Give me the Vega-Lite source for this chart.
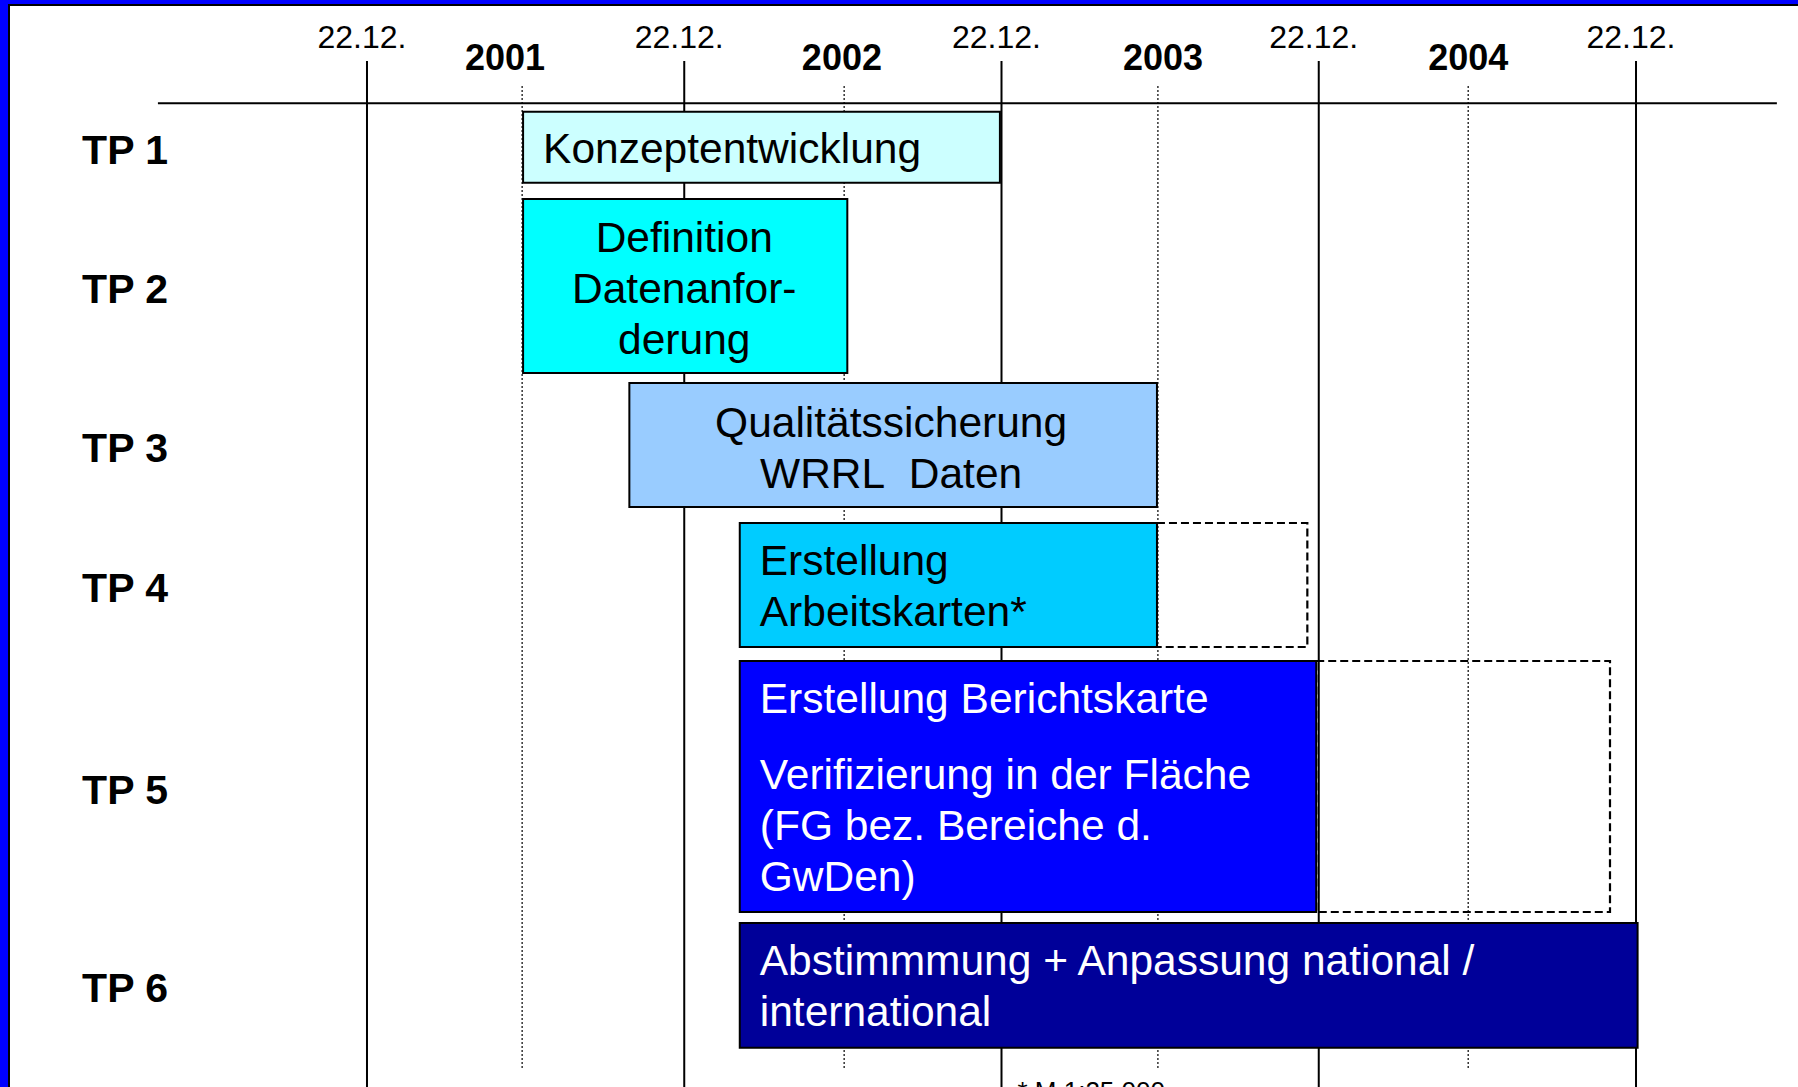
{
  "$schema": "https://vega.github.io/schema/vega-lite/v6.json",
  "width": 1791,
  "height": 1084,
  "autosize": {"type": "none"},
  "padding": {"left": 9, "top": 5, "right": -2, "bottom": -2},
  "background": "#0000ff",
  "config": {
    "view": {"fill": "white", "stroke": "black", "strokeWidth": 2},
    "text": {"font": "Liberation Sans"}
  },
  "datasets": {
    "tasks": [
      {"tp": "TP 1", "start": 2001.467, "end": 2002.970, "top": 1.117, "bottom": 1.827, "mid": 1.472},
      {"tp": "TP 2", "start": 2001.467, "end": 2002.489, "top": 1.99, "bottom": 3.73, "mid": 2.86},
      {"tp": "TP 3", "start": 2001.802, "end": 2003.465, "top": 3.83, "bottom": 5.07, "mid": 4.45},
      {"tp": "TP 4", "start": 2002.150, "end": 2003.465, "planned": 2003.939, "top": 5.23, "bottom": 6.47, "mid": 5.85},
      {"tp": "TP 5", "start": 2002.150, "end": 2003.967, "planned": 2004.893, "top": 6.61, "bottom": 9.12, "mid": 7.87},
      {"tp": "TP 6", "start": 2002.150, "end": 2004.980, "top": 9.23, "bottom": 10.477, "mid": 9.85}
    ],
    "grid": [
      {"x": 2000.975, "label": "22.12."},
      {"x": 2001.975, "label": "22.12."},
      {"x": 2002.975, "label": "22.12."},
      {"x": 2003.975, "label": "22.12."},
      {"x": 2004.975, "label": "22.12."}
    ],
    "years": [
      {"year": "2001", "mid": 2001.464, "labelAt": 2001.410},
      {"year": "2002", "mid": 2002.479, "labelAt": 2002.472},
      {"year": "2003", "mid": 2003.468, "labelAt": 2003.484},
      {"year": "2004", "mid": 2004.446, "labelAt": 2004.446}
    ],
    "labelsLeft": [
      {"tp": "TP 1", "x": 2001.467, "y": 1.633, "text": ["Konzeptentwicklung"]},
      {"tp": "TP 4", "x": 2002.150, "y": 5.75, "text": ["Erstellung", "Arbeitskarten*"]},
      {"tp": "TP 5", "x": 2002.150, "y": 7.133, "text": ["Erstellung Berichtskarte"]},
      {"tp": "TP 5", "x": 2002.150, "y": 7.893, "text": ["Verifizierung in der Fläche", "(FG bez. Bereiche d.", "GwDen)"]},
      {"tp": "TP 6", "x": 2002.150, "y": 9.75, "text": ["Abstimmmung + Anpassung national /", "international"]}
    ],
    "labelsCenter": [
      {"tp": "TP 2", "x": 2001.975, "y": 2.517, "text": ["Definition", "Datenanfor-", "derung"]},
      {"tp": "TP 3", "x": 2002.627, "y": 4.367, "text": ["Qualitätssicherung", "WRRL\u00a0 Daten"]}
    ],
    "notes": [
      {"text": "* M 1:25.000", "x": 2002.975, "y": 11.0}
    ]
  },
  "layer": [
    {
      "data": {"name": "grid"},
      "mark": {"type": "rule", "color": "black", "strokeWidth": 2},
      "encoding": {
        "x": {"field": "x", "type": "quantitative", "axis": null, "scale": {"domain": [1999.8466, 2005.4919], "nice": false, "zero": false}},
        "y": {"datum": 0.61, "type": "quantitative", "axis": null, "scale": {"domain": [0.05, 10.89], "reverse": true, "nice": false, "zero": false}},
        "y2": {"datum": 10.89}
      }
    },
    {
      "data": {"name": "grid"},
      "mark": {"type": "text", "fontSize": 32, "align": "center", "baseline": "alphabetic", "dx": -5, "color": "black"},
      "encoding": {
        "x": {"field": "x", "type": "quantitative", "axis": null, "scale": {"domain": [1999.8466, 2005.4919], "nice": false, "zero": false}},
        "y": {"datum": 0.483, "type": "quantitative", "axis": null, "scale": {"domain": [0.05, 10.89], "reverse": true, "nice": false, "zero": false}},
        "text": {"field": "label", "type": "nominal"}
      }
    },
    {
      "data": {"name": "years"},
      "mark": {"type": "rule", "color": "black", "strokeWidth": 1.2, "strokeDash": [2, 2]},
      "encoding": {
        "x": {"field": "mid", "type": "quantitative", "axis": null, "scale": {"domain": [1999.8466, 2005.4919], "nice": false, "zero": false}},
        "y": {"datum": 0.86, "type": "quantitative", "axis": null, "scale": {"domain": [0.05, 10.89], "reverse": true, "nice": false, "zero": false}},
        "y2": {"datum": 10.70}
      }
    },
    {
      "data": {"name": "years"},
      "mark": {"type": "text", "fontSize": 36, "fontWeight": "bold", "align": "center", "baseline": "alphabetic", "color": "black"},
      "encoding": {
        "x": {"field": "labelAt", "type": "quantitative", "axis": null, "scale": {"domain": [1999.8466, 2005.4919], "nice": false, "zero": false}},
        "y": {"datum": 0.70, "type": "quantitative", "axis": null, "scale": {"domain": [0.05, 10.89], "reverse": true, "nice": false, "zero": false}},
        "text": {"field": "year", "type": "nominal"}
      }
    },
    {
      "data": {"values": [{}]},
      "mark": {"type": "rule", "color": "black", "strokeWidth": 2},
      "encoding": {
        "x": {"datum": 2000.316, "type": "quantitative", "axis": null, "scale": {"domain": [1999.8466, 2005.4919], "nice": false, "zero": false}},
        "x2": {"datum": 2005.419},
        "y": {"datum": 1.033, "type": "quantitative", "axis": null, "scale": {"domain": [0.05, 10.89], "reverse": true, "nice": false, "zero": false}}
      }
    },
    {
      "data": {"name": "tasks"},
      "transform": [{"filter": "isValid(datum.planned)"}],
      "mark": {"type": "rect", "fill": null, "stroke": "black", "strokeWidth": 2.2, "strokeDash": [8, 4]},
      "encoding": {
        "x": {"field": "end", "type": "quantitative", "axis": null, "scale": {"domain": [1999.8466, 2005.4919], "nice": false, "zero": false}},
        "x2": {"field": "planned"},
        "y": {"field": "top", "type": "quantitative", "axis": null, "scale": {"domain": [0.05, 10.89], "reverse": true, "nice": false, "zero": false}},
        "y2": {"field": "bottom"}
      }
    },
    {
      "data": {"name": "tasks"},
      "mark": {"type": "rect", "stroke": "black", "strokeWidth": 2, "opacity": 1},
      "encoding": {
        "x": {"field": "start", "type": "quantitative", "axis": null, "scale": {"domain": [1999.8466, 2005.4919], "nice": false, "zero": false}},
        "x2": {"field": "end"},
        "y": {"field": "top", "type": "quantitative", "axis": null, "scale": {"domain": [0.05, 10.89], "reverse": true, "nice": false, "zero": false}},
        "y2": {"field": "bottom"},
        "fill": {"field": "tp", "type": "nominal", "legend": null, "scale": {"domain": ["TP 1", "TP 2", "TP 3", "TP 4", "TP 5", "TP 6"], "range": ["#ccffff", "#00ffff", "#99ccff", "#00ccff", "#0000ff", "#000099"]}}
      }
    },
    {
      "data": {"name": "tasks"},
      "mark": {"type": "text", "fontSize": 41, "fontWeight": "bold", "align": "left", "baseline": "alphabetic", "dy": 17, "color": "black"},
      "encoding": {
        "x": {"datum": 2000.077, "type": "quantitative", "axis": null, "scale": {"domain": [1999.8466, 2005.4919], "nice": false, "zero": false}},
        "y": {"field": "mid", "type": "quantitative", "axis": null, "scale": {"domain": [0.05, 10.89], "reverse": true, "nice": false, "zero": false}},
        "text": {"field": "tp", "type": "nominal"}
      }
    },
    {
      "data": {"name": "labelsLeft"},
      "mark": {"type": "text", "fontSize": 42.5, "align": "left", "baseline": "alphabetic", "dx": 20, "lineHeight": 51},
      "encoding": {
        "x": {"field": "x", "type": "quantitative", "axis": null, "scale": {"domain": [1999.8466, 2005.4919], "nice": false, "zero": false}},
        "y": {"field": "y", "type": "quantitative", "axis": null, "scale": {"domain": [0.05, 10.89], "reverse": true, "nice": false, "zero": false}},
        "text": {"field": "text", "type": "nominal"},
        "color": {"condition": {"test": "datum.tp === 'TP 5' || datum.tp === 'TP 6'", "value": "white"}, "value": "black"}
      }
    },
    {
      "data": {"name": "labelsCenter"},
      "mark": {"type": "text", "fontSize": 42.5, "align": "center", "baseline": "alphabetic", "lineHeight": 51, "color": "black"},
      "encoding": {
        "x": {"field": "x", "type": "quantitative", "axis": null, "scale": {"domain": [1999.8466, 2005.4919], "nice": false, "zero": false}},
        "y": {"field": "y", "type": "quantitative", "axis": null, "scale": {"domain": [0.05, 10.89], "reverse": true, "nice": false, "zero": false}},
        "text": {"field": "text", "type": "nominal"}
      }
    },
    {
      "data": {"name": "notes"},
      "mark": {"type": "text", "fontSize": 26, "align": "left", "baseline": "alphabetic", "dx": 16, "color": "black"},
      "encoding": {
        "x": {"field": "x", "type": "quantitative", "axis": null, "scale": {"domain": [1999.8466, 2005.4919], "nice": false, "zero": false}},
        "y": {"field": "y", "type": "quantitative", "axis": null, "scale": {"domain": [0.05, 10.89], "reverse": true, "nice": false, "zero": false}},
        "text": {"field": "text", "type": "nominal"}
      }
    }
  ]
}
